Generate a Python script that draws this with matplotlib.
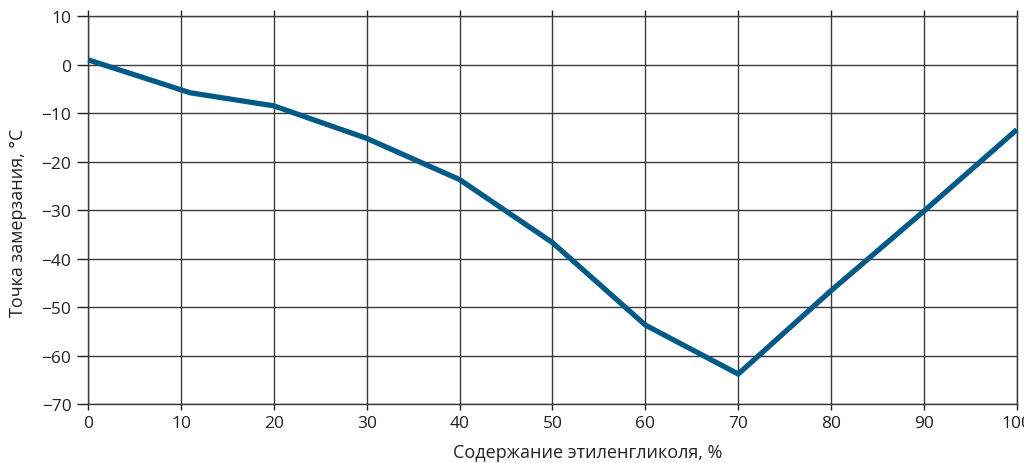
import numpy as np
import matplotlib.pyplot as plt

# Freezing point of ethylene glycol / water mixtures
glycol = [0, 11, 20, 30, 40, 50, 60, 70, 80, 90, 100]
t_freeze = [1, -5.8, -8.5, -15.2, -23.7, -36.7, -53.7, -63.8, -46.6, -30.2, -13.4]

x_ticks = list(range(0, 101, 10))
y_ticks = list(range(-70, 11, 10))

plt.rcParams['font.family'] = ['Open Sans', 'DejaVu Sans']

fig = plt.figure(figsize=(10.24, 4.64), dpi=100)
ax = fig.add_axes([0.086, 0.127, 0.907, 0.836])

ax.plot(glycol, t_freeze, color='#005a87', linewidth=3.8, solid_capstyle='butt',
        solid_joinstyle='miter', zorder=3, clip_on=False)

ax.set_xlim(0, 100)
ax.set_ylim(-70, 10)
ax.set_xticks(x_ticks)
ax.set_yticks(y_ticks)
ax.set_yticklabels([str(v).replace('-', '\u2212') for v in y_ticks])
ax.grid(True, color='#3a3a3a', linewidth=1.0)
for s in ax.spines.values():
    s.set_color('#3a3a3a')
    s.set_linewidth(1.0)

ax.tick_params(axis='both', labelsize=12.5, colors='#222222', width=1.0)
ax.tick_params(axis='x', direction='out', length=4, pad=4, top=True)
ax.tick_params(axis='y', direction='out', length=8, pad=4)

ax.set_xlabel('Содержание этиленгликоля, %', fontsize=13, color='#222222')
ax.set_ylabel('Точка замерзания, °С', fontsize=13, color='#222222')
ax.xaxis.set_label_coords(0.538, -0.1)
ax.yaxis.set_label_coords(-0.066, 0.47)

fig.savefig('out.png', dpi=100)
